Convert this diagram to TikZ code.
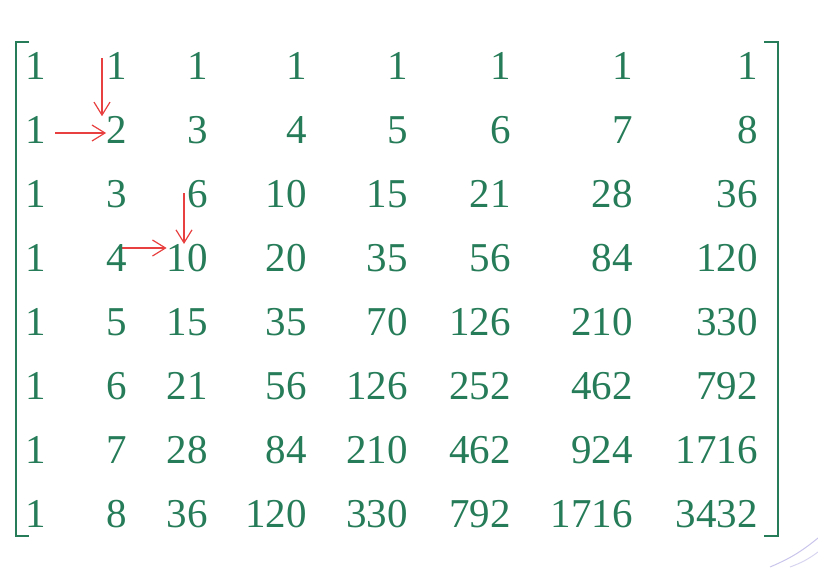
\documentclass[tikz,border=0pt]{standalone}
\usepackage{fontspec}
\setmainfont{Liberation Serif}
\usepackage{tikz}
\usetikzlibrary{arrows.meta}
\pgfdeclarelayer{edgelayer}
\pgfdeclarelayer{nodelayer}
\pgfsetlayers{edgelayer,nodelayer,main}
\definecolor{entrygreen}{RGB}{38,124,88}
\definecolor{stepred}{RGB}{232,64,64}
\tikzstyle{entry}=[anchor=east,inner sep=0pt,text=entrygreen,font=\fontsize{41}{50}\selectfont]
\tikzstyle{bracket}=[draw=entrygreen,line width=2pt]
\tikzstyle{step_arrow}=[-{Straight Barb[length=13pt,width=16pt]},draw=stepred,line width=1.2pt]

\begin{document}
\begin{tikzpicture}[x=1pt,y=-1pt]
	\useasboundingbox (0, 0) rectangle (818, 567);
	\begin{pgfonlayer}{nodelayer}
		\node [style=entry] (11) at (46, 66) {1};
		\node [style=entry] (12) at (127, 66) {1};
		\node [style=entry] (13) at (208, 66) {1};
		\node [style=entry] (14) at (307, 66) {1};
		\node [style=entry] (15) at (408, 66) {1};
		\node [style=entry] (16) at (511, 66) {1};
		\node [style=entry] (17) at (633, 66) {1};
		\node [style=entry] (18) at (758, 66) {1};
		\node [style=entry] (21) at (46, 130) {1};
		\node [style=entry] (22) at (127, 130) {2};
		\node [style=entry] (23) at (208, 130) {3};
		\node [style=entry] (24) at (307, 130) {4};
		\node [style=entry] (25) at (408, 130) {5};
		\node [style=entry] (26) at (511, 130) {6};
		\node [style=entry] (27) at (633, 130) {7};
		\node [style=entry] (28) at (758, 130) {8};
		\node [style=entry] (31) at (46, 194) {1};
		\node [style=entry] (32) at (127, 194) {3};
		\node [style=entry] (33) at (208, 194) {6};
		\node [style=entry] (34) at (307, 194) {10};
		\node [style=entry] (35) at (408, 194) {15};
		\node [style=entry] (36) at (511, 194) {21};
		\node [style=entry] (37) at (633, 194) {28};
		\node [style=entry] (38) at (758, 194) {36};
		\node [style=entry] (41) at (46, 258) {1};
		\node [style=entry] (42) at (127, 258) {4};
		\node [style=entry] (43) at (208, 258) {10};
		\node [style=entry] (44) at (307, 258) {20};
		\node [style=entry] (45) at (408, 258) {35};
		\node [style=entry] (46) at (511, 258) {56};
		\node [style=entry] (47) at (633, 258) {84};
		\node [style=entry] (48) at (758, 258) {120};
		\node [style=entry] (51) at (46, 322) {1};
		\node [style=entry] (52) at (127, 322) {5};
		\node [style=entry] (53) at (208, 322) {15};
		\node [style=entry] (54) at (307, 322) {35};
		\node [style=entry] (55) at (408, 322) {70};
		\node [style=entry] (56) at (511, 322) {126};
		\node [style=entry] (57) at (633, 322) {210};
		\node [style=entry] (58) at (758, 322) {330};
		\node [style=entry] (61) at (46, 386) {1};
		\node [style=entry] (62) at (127, 386) {6};
		\node [style=entry] (63) at (208, 386) {21};
		\node [style=entry] (64) at (307, 386) {56};
		\node [style=entry] (65) at (408, 386) {126};
		\node [style=entry] (66) at (511, 386) {252};
		\node [style=entry] (67) at (633, 386) {462};
		\node [style=entry] (68) at (758, 386) {792};
		\node [style=entry] (71) at (46, 450) {1};
		\node [style=entry] (72) at (127, 450) {7};
		\node [style=entry] (73) at (208, 450) {28};
		\node [style=entry] (74) at (307, 450) {84};
		\node [style=entry] (75) at (408, 450) {210};
		\node [style=entry] (76) at (511, 450) {462};
		\node [style=entry] (77) at (633, 450) {924};
		\node [style=entry] (78) at (758, 450) {1716};
		\node [style=entry] (81) at (46, 514) {1};
		\node [style=entry] (82) at (127, 514) {8};
		\node [style=entry] (83) at (208, 514) {36};
		\node [style=entry] (84) at (307, 514) {120};
		\node [style=entry] (85) at (408, 514) {330};
		\node [style=entry] (86) at (511, 514) {792};
		\node [style=entry] (87) at (633, 514) {1716};
		\node [style=entry] (88) at (758, 514) {3432};
		\coordinate (down1) at (102, 58);
		\coordinate (right1) at (55, 133);
		\coordinate (down2) at (184, 193);
		\coordinate (right2) at (122, 248);
	\end{pgfonlayer}
	\begin{pgfonlayer}{edgelayer}
		\draw [style=bracket] (29, 42) -- (16, 42) -- (16, 536) -- (29, 536);
		\draw [style=bracket] (764, 42) -- (778, 42) -- (778, 536) -- (764, 536);
		\draw [style=step_arrow] (down1) to (down1 |- 22.north);
		\draw [style=step_arrow] (right1) to (right1 -| 22.west);
		\draw [style=step_arrow] (down2) to (down2 |- 43.north);
		\draw [style=step_arrow] (right2) to (right2 -| 43.west);
		\draw [draw={rgb,255:red,200;green,196;blue,235}, line width=1pt] (770, 567) to[bend right=8] (818, 538);
		\draw [draw={rgb,255:red,215;green,212;blue,240}, line width=1pt] (790, 567) to[bend right=8] (818, 552);
	\end{pgfonlayer}
\end{tikzpicture}
\end{document}
